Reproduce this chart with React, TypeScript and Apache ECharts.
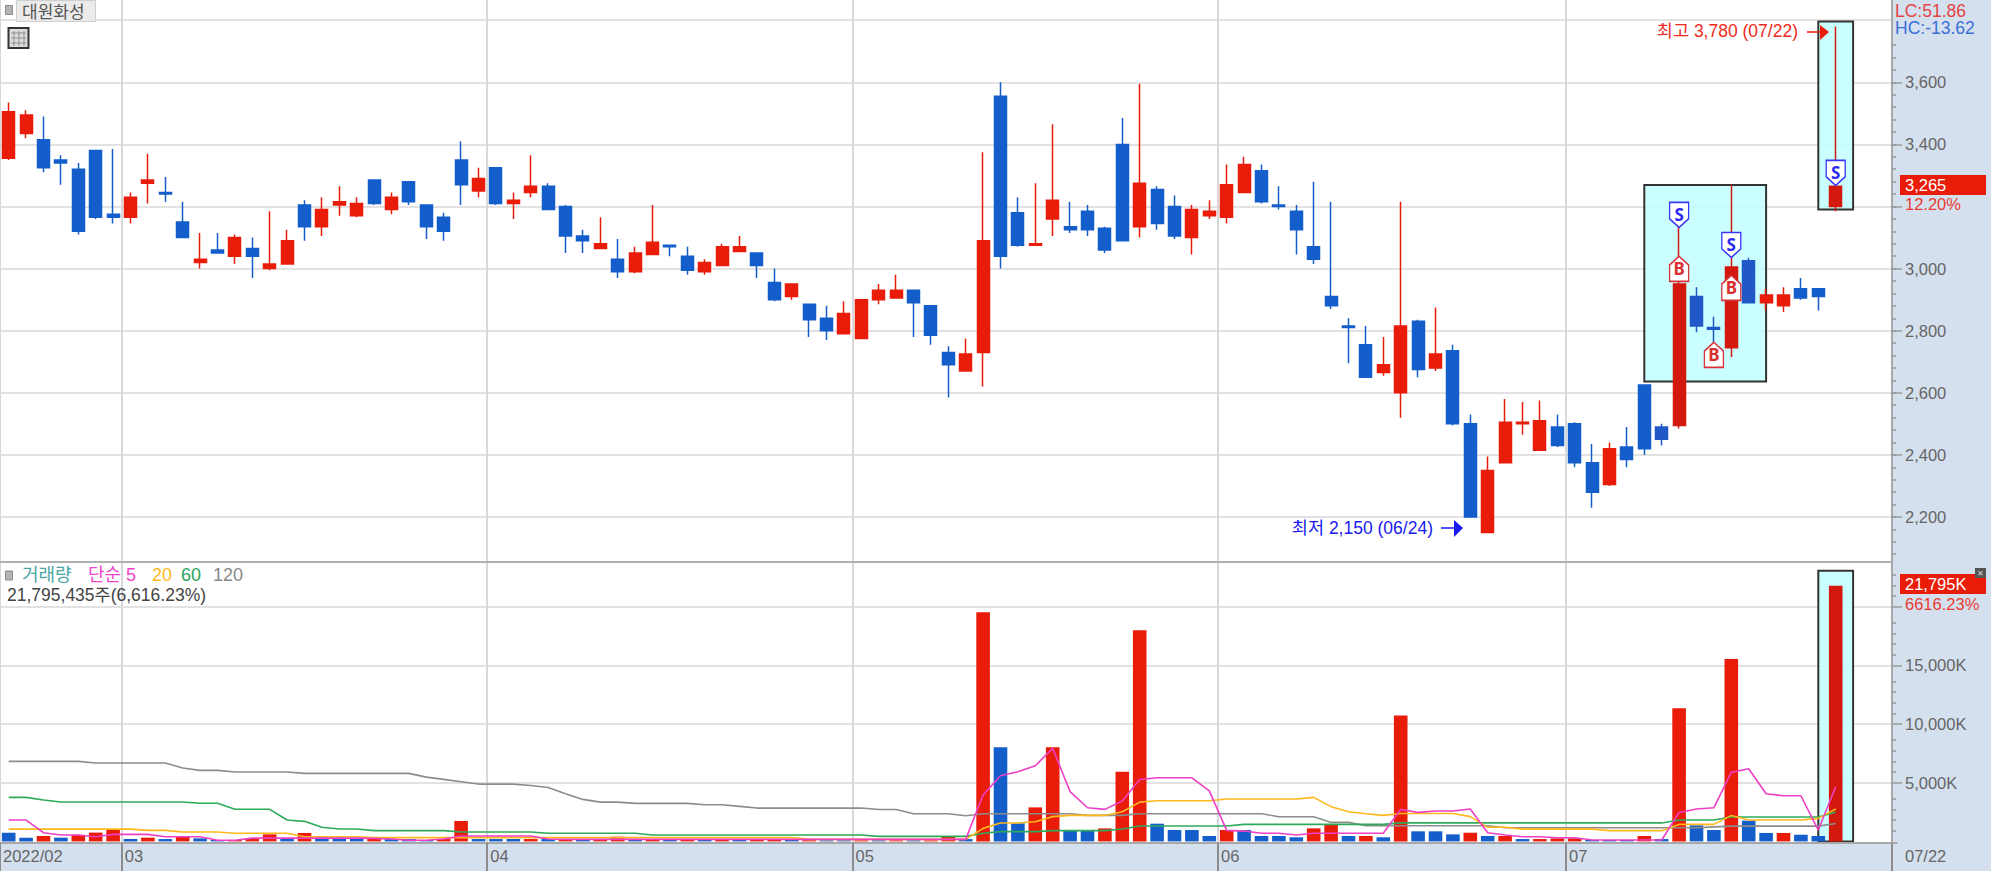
import React, { useEffect, useRef } from "react";
import * as echarts from "echarts";

const opens = [
  3355, 3435, 3415, 3350, 3320, 3380, 3175, 3165, 3275, 3245,
  3150, 3020, 3060, 3040, 3065, 3000, 3015, 3205, 3135, 3205,
  3170, 3285, 3190, 3280, 3205, 3165, 3350, 3250, 3325, 3210,
  3245, 3265, 3200, 3105, 3065, 3030, 2990, 3045, 3075, 3040,
  2990, 3010, 3055, 3050, 2955, 2910, 2885, 2840, 2790, 2775,
  2900, 2905, 2930, 2880, 2730, 2670, 2730, 3555, 3180, 3075,
  3160, 3135, 3185, 3130, 3400, 3135, 3255, 3200, 3100, 3170,
  3165, 3245, 3315, 3205, 3185, 3070, 2910, 2815, 2755, 2665,
  2600, 2830, 2680, 2735, 2500, 2150, 2375, 2500, 2415, 2490,
  2500, 2375, 2305, 2425, 2625, 2490, 2495, 2910, 2810, 2745,
  3025, 2890, 2880, 2935, 2935, 3200,
];
const closes = [
  3505, 3495, 3325, 3340, 3120, 3165, 3165, 3230, 3285, 3240,
  3100, 3030, 3050, 3100, 3040, 3015, 3090, 3135, 3190, 3215,
  3210, 3210, 3230, 3215, 3135, 3120, 3270, 3290, 3210, 3220,
  3265, 3190, 3105, 3090, 3080, 2990, 3050, 3085, 3070, 2995,
  3020, 3070, 3070, 3010, 2900, 2950, 2835, 2800, 2855, 2900,
  2930, 2930, 2890, 2785, 2690, 2725, 3090, 3040, 3075, 3080,
  3220, 3125, 3125, 3060, 3090, 3275, 3145, 3105, 3190, 3185,
  3270, 3335, 3215, 3200, 3125, 3030, 2880, 2810, 2650, 2690,
  2815, 2675, 2725, 2500, 2200, 2350, 2505, 2505, 2510, 2430,
  2375, 2280, 2420, 2385, 2420, 2450, 2950, 2815, 2805, 3005,
  2890, 2915, 2915, 2905, 2910, 3265,
];
const lows = [
  3350, 3420, 3310, 3270, 3110, 3160, 3145, 3145, 3210, 3215,
  3100, 3000, 3050, 3015, 2970, 2995, 3015, 3090, 3105, 3170,
  3165, 3205, 3175, 3205, 3095, 3090, 3205, 3230, 3205, 3160,
  3230, 3190, 3050, 3050, 3065, 2970, 2985, 3045, 3040, 2980,
  2980, 3010, 3055, 2970, 2895, 2900, 2780, 2770, 2790, 2775,
  2885, 2905, 2780, 2755, 2585, 2670, 2620, 3000, 3070, 3075,
  3105, 3115, 3105, 3050, 3090, 3100, 3125, 3095, 3045, 3160,
  3145, 3245, 3210, 3190, 3045, 3015, 2870, 2695, 2650, 2655,
  2520, 2650, 2670, 2495, 2200, 2150, 2375, 2465, 2415, 2425,
  2360, 2230, 2300, 2360, 2400, 2430, 2485, 2795, 2760, 2715,
  2890, 2865, 2860, 2900, 2865, 3185,
];
const highs = [
  3535, 3510, 3490, 3365, 3340, 3380, 3385, 3245, 3370, 3295,
  3215, 3115, 3115, 3110, 3100, 3185, 3125, 3220, 3230, 3265,
  3230, 3285, 3245, 3280, 3205, 3180, 3410, 3325, 3325, 3245,
  3365, 3275, 3205, 3125, 3165, 3095, 3070, 3205, 3075, 3070,
  3030, 3080, 3105, 3050, 3000, 2950, 2885, 2880, 2895, 2900,
  2950, 2980, 2930, 2880, 2750, 2775, 3375, 3600, 3230, 3275,
  3465, 3215, 3205, 3135, 3485, 3595, 3265, 3235, 3205, 3220,
  3335, 3360, 3335, 3265, 3205, 3280, 3215, 2840, 2815, 2780,
  3215, 2835, 2875, 2755, 2530, 2395, 2580, 2570, 2575, 2530,
  2505, 2435, 2440, 2490, 2625, 2500, 3150, 2940, 2845, 3270,
  3035, 2935, 2940, 2970, 2935, 3780,
];
const volumes = [
  740, 320, 460, 320, 550, 750, 1030, 200, 320, 200,
  400, 260, 120, 120, 260, 600, 260, 720, 320, 320,
  260, 260, 200, 200, 120, 200, 1740, 200, 200, 200,
  200, 200, 200, 200, 200, 400, 200, 120, 120, 200,
  120, 120, 120, 120, 120, 120, 100, 90, 90, 90,
  90, 90, 90, 90, 380, 200, 19520, 8020, 1540, 2900,
  8020, 890, 890, 1110, 5940, 17990, 1510, 970, 970, 460,
  970, 970, 460, 460, 350, 1110, 1450, 460, 460, 350,
  10720, 860, 860, 600, 740, 460, 460, 200, 200, 260,
  260, 120, 120, 120, 460, 200, 11340, 1370, 970, 15540,
  1770, 720, 720, 570, 460, 21795,
];
const volumeSides =
  "BBRBRRRBRB" + "RBBRRRBRBB" + "BRBBBRRBBB" + "RBRBRRBRBR" + "BRBRRBRBBR" +
  "BRBRRBRBBR" + "RBBRRRBBBB" + "RBBBBRRBRB" + "RBBBRBRBRR" + "RBBBRBRBBR" + "BBRBBR";
const ma5 = [
  1820, 1820, 740, 540, 540, 400, 600, 600, 600, 400,
  400, 400, 100, 100, 280, 280, 280, 280, 280, 280,
  280, 260, 200, 100, 100, 200, 460, 460, 460, 460,
  460, 200, 170, 170, 170, 170, 170, 170, 170, 170,
  170, 170, 170, 170, 170, 170, 170, 170, 170, 170,
  170, 170, 170, 170, 170, 170, 3960, 5600, 5940, 6450,
  7930, 4240, 2870, 2730, 3440, 5280, 5420, 5420, 5420, 4300,
  940, 880, 690, 690, 540, 690, 690, 690, 690, 690,
  2730, 2470, 2590, 2590, 2755, 740, 540, 400, 400, 310,
  310, 120, 120, 120, 120, 120, 2470, 2760, 2870, 5880,
  6190, 4060, 3890, 3890, 970, 4660,
];
const ma20 = [
  1050, 1050, 1050, 1050, 1050, 1050, 1050, 1050, 940, 940,
  800, 800, 800, 690, 690, 690, 690, 400, 400, 400,
  400, 320, 320, 320, 320, 320, 320, 320, 320, 320,
  320, 320, 320, 320, 320, 320, 320, 320, 320, 320,
  320, 320, 320, 320, 320, 320, 170, 170, 170, 170,
  170, 170, 170, 170, 170, 170, 1110, 1570, 1570, 1680,
  2110, 2215, 2215, 2215, 2530, 3350, 3465, 3465, 3465, 3465,
  3610, 3610, 3610, 3610, 3610, 3750, 2960, 2530, 2360, 2215,
  2375, 2375, 2375, 2375, 2110, 1200, 1200, 1050, 1050, 1050,
  1050, 1050, 915, 915, 915, 915, 1450, 1450, 1450, 2215,
  1825, 1825, 1825, 1825, 1965, 2755,
];
const ma60 = [
  3755, 3755, 3530, 3360, 3360, 3360, 3360, 3360, 3360, 3360,
  3360, 3245, 3245, 2735, 2735, 2735, 1825, 1710, 1200, 1055,
  1055, 915, 915, 915, 915, 915, 800, 800, 800, 800,
  800, 690, 690, 690, 690, 690, 690, 545, 545, 545,
  545, 545, 545, 545, 545, 545, 545, 545, 545, 545,
  430, 430, 430, 430, 430, 430, 690, 830, 830, 830,
  915, 915, 915, 915, 1055, 1310, 1310, 1310, 1310, 1310,
  1310, 1450, 1450, 1450, 1450, 1450, 1450, 1450, 1450, 1450,
  1575, 1575, 1575, 1575, 1575, 1575, 1575, 1575, 1575, 1575,
  1575, 1575, 1575, 1575, 1575, 1575, 1825, 1825, 1825, 2080,
  2080, 2080, 2080, 2080, 2080, 2480,
];
const ma120 = [
  6820, 6820, 6820, 6820, 6820, 6675, 6675, 6675, 6675, 6675,
  6250, 6050, 6050, 5910, 5910, 5910, 5910, 5795, 5795, 5795,
  5795, 5795, 5795, 5795, 5480, 5285, 5085, 4885, 4885, 4885,
  4770, 4600, 4060, 3580, 3350, 3350, 3240, 3240, 3240, 3240,
  3125, 3125, 2985, 2840, 2840, 2840, 2840, 2840, 2840, 2840,
  2725, 2725, 2360, 2360, 2360, 2190, 2360, 2360, 2360, 2360,
  2360, 2360, 2215, 2215, 2215, 2360, 2360, 2360, 2360, 2360,
  2360, 2360, 2360, 2100, 2100, 2100, 1620, 1620, 1335, 1335,
  1335, 1335, 1335, 1335, 1335, 1335, 1165, 1165, 1165, 1165,
  1165, 1165, 1165, 1165, 1165, 1165, 1165, 1165, 1240, 1300,
  1300, 1300, 1300, 1300, 1300, 1520,
];
const monthStarts = [0, 7, 28, 49, 70, 90];
const monthLabels = ["2022/02", "03", "04", "05", "06", "07"];
const priceTicks = [2200, 2400, 2600, 2800, 3000, 3200, 3400, 3600, 3800];
const priceLongTicks = [2200, 2400, 2600, 2800, 3000, 3200, 3400, 3600];
const priceLabels = [2200, 2400, 2600, 2800, 3000, 3400, 3600];
const volumeGridTicks = [5000, 10000, 15000, 20000];
const volumeLabels = [5000, 10000, 15000];
const signals = [
  { kind: "S", index: 96, price: 3173 },
  { kind: "S", index: 99, price: 3076 },
  { kind: "S", index: 105, price: 3308 },
  { kind: "B", index: 96, price: 2999 },
  { kind: "B", index: 98, price: 2722 },
  { kind: "B", index: 99, price: 2938 },
];

const FONT = '"Liberation Sans","Noto Sans CJK KR",sans-serif';
const AXIS_SIZE = 16.5;
const RED = "#e81c09";
const BLUE = "#135ecb";
const RED_BOX = "#d3190e";
const BLUE_BOX = "#2058c8";
const PANEL = "#d5e0ee";
const AXIS_TEXT = "#666666";
const BANDS = 109;
const BAND_PX = 17.4;
const PLOT_W = BANDS * BAND_PX;
const PRICE_H = 561.7;
const VOL_TOP = 561.7;
const VOL_H = 281.3;
const PRICE_MIN = 2056;
const PRICE_MAX = 3865;
const VOL_MIN = -136;
const VOL_MAX = 23835;
const Y_OFFSET = PLOT_W - 1892;

const inBox = (i: number) => (i >= 95 && i <= 100) || i === 105;
const bandCats = Array.from({ length: BANDS }, (_, i) => String(i));
const edgeCats = Array.from({ length: BANDS + 1 }, (_, i) => {
  const k = monthStarts.indexOf(i);
  return k >= 0 ? monthLabels[k] : "";
});
const isMonth = (i: number) => monthStarts.includes(i);

const priceMinor: number[] = [];
for (let v = 2080; v <= 3720; v += 40) priceMinor.push(v);
const volMinor: number[] = [];
for (let m = 0; m <= 20000; m += 5000) {
  for (let k = 1; k <= 5; k++) {
    const v = m + k * 909;
    if (v <= 23000 && (k < 5 || m >= 20000)) volMinor.push(v);
  }
}

const hidden = {
  axisLine: { show: false, onZero: false },
  axisTick: { show: false },
  axisLabel: { show: false },
  splitLine: { show: false },
};

const txt = (text: string, x: number, y: number, fill: string, size = AXIS_SIZE, extra: any = {}) => ({
  type: "text",
  z: 20,
  silent: true,
  style: { text, x, y, fill, font: `${size}px ${FONT}`, verticalAlign: "middle", ...extra },
});
const box = (x: number, y: number, width: number, height: number, fill: string, stroke?: string, lineWidth = 1, z = 20) => ({
  type: "rect",
  z,
  silent: true,
  shape: { x, y, width, height },
  style: { fill, stroke, lineWidth },
});
const seg = (x1: number, y1: number, x2: number, y2: number, stroke: string, lineWidth = 1) => ({
  type: "line",
  z: 20,
  silent: true,
  shape: { x1, y1, x2, y2 },
  style: { stroke, lineWidth },
});
const tri = (points: number[][], fill: string) => ({
  type: "polygon",
  z: 20,
  silent: true,
  shape: { points },
  style: { fill },
});

function buildOption() {
  const candles = opens.map((o, i) => {
    const value = [o, closes[i], lows[i], highs[i]];
    if (!inBox(i)) return value;
    const c = closes[i] > o ? RED_BOX : BLUE_BOX;
    return { value, itemStyle: { color: c, color0: c, borderColor: c, borderColor0: c } };
  });
  const bars = volumes.map((v, i) => ({
    value: v,
    itemStyle: { color: i === 105 ? RED_BOX : volumeSides[i] === "R" ? RED : BLUE },
  }));
  const boxStyle = { color: "rgba(196,255,255,0.88)", borderColor: "#333333", borderWidth: 2 };
  const maLine = (name: string, data: number[], color: string, extra: any = {}) => ({
    name,
    type: "line",
    xAxisIndex: 2,
    yAxisIndex: 3,
    data,
    showSymbol: false,
    smooth: false,
    silent: true,
    z: 4,
    lineStyle: { color, width: 1.6 },
    ...extra,
  });

  return {
    animation: false,
    backgroundColor: "#ffffff",
    textStyle: { fontFamily: FONT },
    grid: [
      { left: 0, top: 0, width: PLOT_W, height: PRICE_H, containLabel: false },
      { left: 0, top: VOL_TOP, width: PLOT_W, height: VOL_H, containLabel: false },
    ],
    xAxis: [
      { type: "category", gridIndex: 0, position: "bottom", data: bandCats, boundaryGap: true, ...hidden },
      {
        type: "category", gridIndex: 0, position: "bottom", data: edgeCats, boundaryGap: false, z: 0,
        axisLine: { show: true, onZero: false, lineStyle: { color: "#b0b0b0", width: 2 } },
        axisTick: { show: false },
        axisLabel: { show: false },
        splitLine: { show: true, interval: (i: number) => isMonth(i), lineStyle: { color: "#d8d8d8", width: 2 } },
      },
      { type: "category", gridIndex: 1, position: "bottom", data: bandCats, boundaryGap: true, ...hidden },
      {
        type: "category", gridIndex: 1, position: "bottom", data: edgeCats, boundaryGap: false, z: 0,
        axisLine: { show: false, onZero: false },
        axisTick: { show: false },
        axisLabel: { show: false },
        splitLine: { show: true, interval: (i: number) => isMonth(i), lineStyle: { color: "#d8d8d8", width: 2 } },
      },
      {
        type: "category", gridIndex: 1, position: "bottom", data: edgeCats, boundaryGap: false, z: 10,
        axisLine: { show: true, onZero: false, lineStyle: { color: "#a8a8a8", width: 2 } },
        axisTick: { show: true, interval: (i: number) => isMonth(i), length: 28, lineStyle: { color: "#8c8c8c", width: 2 } },
        axisLabel: {
          show: true, interval: (i: number) => isMonth(i), align: "left", margin: 5,
          padding: [0, 0, 0, 3], color: AXIS_TEXT, fontSize: AXIS_SIZE, fontFamily: FONT,
        },
        splitLine: { show: false },
      },
    ],
    yAxis: [
      {
        type: "value", gridIndex: 0, min: PRICE_MIN, max: PRICE_MAX, position: "right", z: 0,
        axisLine: { show: false, onZero: false },
        axisTick: { show: false, customValues: priceTicks },
        axisLabel: { show: false },
        splitLine: { show: true, lineStyle: { color: "#e2e2e2", width: 2 } },
      },
      {
        type: "value", gridIndex: 0, min: PRICE_MIN, max: PRICE_MAX, position: "right", offset: -Y_OFFSET, z: 10,
        axisLine: { show: true, onZero: false, lineStyle: { color: "#a8a8a8", width: 2 } },
        axisTick: { show: true, length: 10, customValues: priceLongTicks, lineStyle: { color: "#9a9a9a", width: 1.5 } },
        axisLabel: {
          show: true, customValues: priceLabels, margin: 13, color: AXIS_TEXT, fontSize: AXIS_SIZE, fontFamily: FONT,
          formatter: (v: number) => v.toLocaleString("en-US"),
        },
        splitLine: { show: false },
      },
      {
        type: "value", gridIndex: 0, min: PRICE_MIN, max: PRICE_MAX, position: "right", offset: -Y_OFFSET, z: 10,
        axisLine: { show: false, onZero: false },
        axisTick: { show: true, length: 4, customValues: priceMinor, lineStyle: { color: "#9a9a9a", width: 1.5 } },
        axisLabel: { show: false },
        splitLine: { show: false },
      },
      {
        type: "value", gridIndex: 1, min: VOL_MIN, max: VOL_MAX, position: "right", z: 0,
        axisLine: { show: false, onZero: false },
        axisTick: { show: false, customValues: volumeGridTicks },
        axisLabel: { show: false },
        splitLine: { show: true, lineStyle: { color: "#e2e2e2", width: 2 } },
      },
      {
        type: "value", gridIndex: 1, min: VOL_MIN, max: VOL_MAX, position: "right", offset: -Y_OFFSET, z: 10,
        axisLine: { show: true, onZero: false, lineStyle: { color: "#a8a8a8", width: 2 } },
        axisTick: { show: true, length: 10, customValues: volumeGridTicks, lineStyle: { color: "#9a9a9a", width: 1.5 } },
        axisLabel: {
          show: true, customValues: volumeLabels, margin: 13, color: AXIS_TEXT, fontSize: AXIS_SIZE, fontFamily: FONT,
          formatter: (v: number) => `${v.toLocaleString("en-US")}K`,
        },
        splitLine: { show: false },
      },
      {
        type: "value", gridIndex: 1, min: VOL_MIN, max: VOL_MAX, position: "right", offset: -Y_OFFSET, z: 10,
        axisLine: { show: false, onZero: false },
        axisTick: { show: true, length: 4, customValues: volMinor, lineStyle: { color: "#9a9a9a", width: 1.5 } },
        axisLabel: { show: false },
        splitLine: { show: false },
      },
    ],
    series: [
      {
        name: "대원화성",
        type: "candlestick",
        xAxisIndex: 0,
        yAxisIndex: 0,
        data: candles,
        barWidth: 12.4,
        silent: true,
        z: 3,
        itemStyle: { color: RED, color0: BLUE, borderColor: RED, borderColor0: BLUE, borderWidth: 1.5 },
        markArea: {
          silent: true,
          z: 1,
          itemStyle: boxStyle,
          data: [
            [{ coord: [94, 3269] }, { coord: [101, 2636] }],
            [{ coord: [104, 3796] }, { coord: [106, 3190] }],
          ],
        },
        markPoint: {
          silent: true,
          z: 6,
          data: signals.map((s) => ({
            coord: [s.index, s.price],
            symbol: s.kind === "S" ? "path://M0,0H20V17L10,26L0,17Z" : "path://M10,0L20,9V26H0V9Z",
            symbolSize: [19, 25],
            itemStyle: { color: "#ffffff", borderColor: s.kind === "S" ? "#3b35f5" : "#d8323a", borderWidth: 1.5 },
            label: {
              show: true,
              formatter: s.kind,
              position: "inside",
              color: s.kind === "S" ? "#2a2af0" : "#d83030",
              fontSize: 17,
              fontWeight: "bold",
              fontFamily: '"Noto Sans"',
            },
          })),
        },
      },
      {
        name: "거래량",
        type: "bar",
        xAxisIndex: 2,
        yAxisIndex: 3,
        data: bars,
        barWidth: 13.6,
        silent: true,
        z: 3,
      },
      maLine("120", ma120, "#8c8c8c", {
        markArea: {
          silent: true,
          z: 1,
          itemStyle: boxStyle,
          data: [[{ coord: [104, 23070] }, { coord: [106, 0] }]],
        },
      }),
      maLine("60", ma60, "#2eaa5c"),
      maLine("20", ma20, "#ffb81c"),
      maLine("5", ma5, "#ef3fc4"),
    ],
    graphic: [
      box(1892, 0, 99, 871, PANEL, undefined, 0, 5),
      box(0, 843, 1991, 28, PANEL, undefined, 0, 5),
      seg(1892, 843, 1892, 871, "#8c8c8c", 2),

      box(5.5, 5.5, 7, 9, "#b4b4b4", "#8c8c8c", 1),
      box(16.5, 0.5, 79, 21, "#ebebeb", "#cfcfcf", 1),
      txt("대원화성", 22, 12, "#555555", 17),
      box(8.5, 28, 20, 20, "#dddddd", "#333333", 2),
      seg(11, 33, 26, 33, "#8f8f8f", 1),
      seg(11, 38, 26, 38, "#8f8f8f", 1),
      seg(11, 43, 26, 43, "#8f8f8f", 1),
      seg(14, 31, 14, 46, "#8f8f8f", 1),
      seg(19, 31, 19, 46, "#8f8f8f", 1),
      seg(24, 31, 24, 46, "#8f8f8f", 1),

      txt("LC:51.86", 1895, 11, "#e34545", 17.5),
      txt("HC:-13.62", 1895, 28, "#3a6fd8", 17.5),
      box(1900, 175, 86, 20, RED),
      txt("3,265", 1905, 185, "#ffffff", AXIS_SIZE),
      txt("12.20%", 1905, 204, "#ea3b32", AXIS_SIZE),

      txt("최고 3,780 (07/22)", 1798, 30.5, "#ee2a20", 17.5, { align: "right" }),
      seg(1807, 32, 1822, 32, RED, 1.5),
      tri([[1820, 25], [1829, 32], [1820, 40]], RED),
      txt("최저 2,150 (06/24)", 1433, 527.5, "#1a1af0", 17.5, { align: "right" }),
      seg(1441, 528, 1456, 528, "#1a1af0", 1.5),
      tri([[1454, 520], [1463, 528], [1454, 537]], "#1a1af0"),

      box(5.5, 571, 7, 9, "#b4b4b4", "#8c8c8c", 1),
      txt("거래량", 22, 575, "#4aa5a5", 18),
      txt("단순 5", 88, 575, "#ee44cc", 18),
      txt("20", 152, 575, "#ffb81c", 18),
      txt("60", 181, 575, "#2aa55a", 18),
      txt("120", 213, 575, "#888888", 18),
      txt("21,795,435주(6,616.23%)", 7, 595, "#444444", 17.5),

      box(1900, 574, 86, 20, RED),
      txt("21,795K", 1905, 584, "#ffffff", AXIS_SIZE),
      txt("6616.23%", 1905, 604, "#ea3b32", AXIS_SIZE),
      box(1975, 568, 11, 10, "#555555"),
      txt("✕", 1977, 573, "#dddddd", 8, { font: `8px "DejaVu Sans"` }),
      txt("07/22", 1905, 856, AXIS_TEXT, AXIS_SIZE),
    ],
  };
}

export default function App() {
  const ref = useRef<HTMLDivElement>(null);
  useEffect(() => {
    const chart = echarts.init(ref.current!, undefined, { renderer: "svg" });
    chart.setOption(buildOption() as any);
    return () => chart.dispose();
  }, []);
  return <div ref={ref} style={{ position: "fixed", left: 0, top: 0, width: 1991, height: 871 }} />;
}
